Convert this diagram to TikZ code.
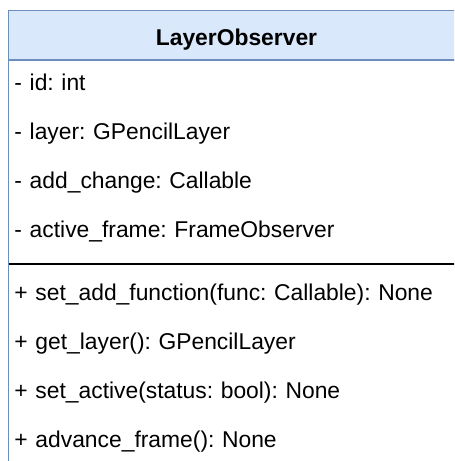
\documentclass[tikz,border=0pt]{standalone}
\usepackage{fontspec}
\setmainfont{Liberation Sans}
\usepackage{xcolor}
\usepackage{tikz}
\usetikzlibrary{positioning, calc}

\definecolor{umlblue}{HTML}{6C8EBF}
\definecolor{umlfill}{HTML}{DAE8FC}

\begin{document}
\frenchspacing
\begin{tikzpicture}[
				% --- STYLES ---
				classhead/.style={
					rectangle, draw=umlblue, fill=umlfill, line width=1.1pt, outer sep=0pt,
					minimum width=9.12cm, minimum height=0.99cm, text height=0.43cm, text depth=0cm,
					font=\bfseries\fontsize{13}{15}\selectfont
				},
				classbody/.style={
					rectangle, draw=umlblue, fill=white, line width=1.1pt, outer sep=0pt,
					minimum width=9.12cm, minimum height=9cm
				},
				member/.style={
					rectangle, inner sep=0pt, outer sep=0pt, text width=8.8cm, align=left,
					minimum height=0.98cm, text height=0.34cm, text depth=0.1cm,
					font=\fontsize{13}{15}\selectfont
				},
				sepline/.style={
					draw=black, line width=1.1pt
				}
				]
				
				\useasboundingbox (0,0) rectangle (9.08,-9.22);
				\clip (0,0) rectangle (9.08,-9.22);
				
				% ==========================================
				% 1. Class name and frame
				% ==========================================
				\node [classhead] (layer_obs) at (4.73,-0.705) {LayerObserver};
				\node [classbody, below=0pt of layer_obs] (layer_body) {};
				
				% ==========================================
				% 2. Attributes
				% ==========================================
				\node [member, below right=0pt and 0.12cm of layer_obs.south west] (attr_id) {- id: int};
				\node [member, below=0pt of attr_id] (attr_layer) {- layer: GPencilLayer};
				\node [member, below=0pt of attr_layer] (attr_change) {- add\_change: Callable};
				\node [member, below=0pt of attr_change] (attr_frame) {- active\_frame: FrameObserver};
				
				% separator between attributes and operations
				\coordinate (sep) at ($(attr_frame.south) + (0, -0.16)$);
				\draw [sepline] (layer_body.west |- sep) -- (layer_body.east |- sep);
				
				% ==========================================
				% 3. Operations
				% ==========================================
				\node [member, below=0.27cm of attr_frame] (op_add) {+ set\_add\_function(func: Callable): None};
				\node [member, below=0pt of op_add] (op_layer) {+ get\_layer(): GPencilLayer};
				\node [member, below=0pt of op_layer] (op_active) {+ set\_active(status: bool): None};
				\node [member, below=0pt of op_active] (op_advance) {+ advance\_frame(): None};
			\end{tikzpicture}
\end{document}
